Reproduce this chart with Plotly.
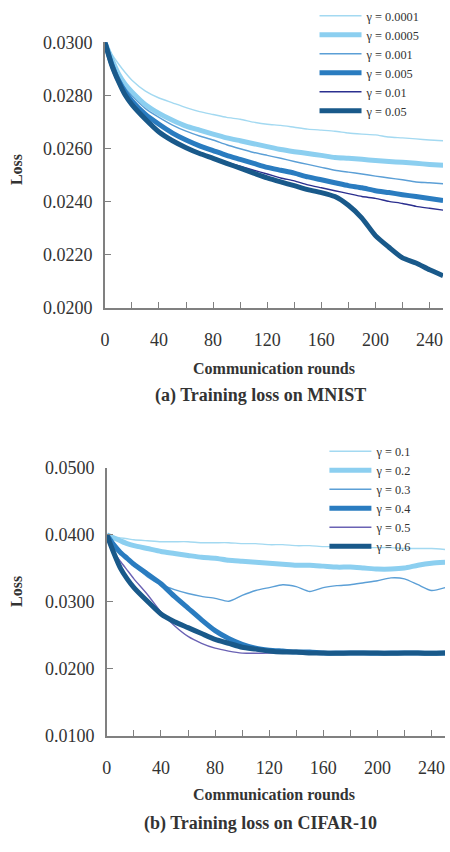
import plotly.graph_objects as go

# ---------------- data ----------------
rounds = [0, 5, 10, 15, 20, 30, 40, 50, 60, 70, 80, 90, 100, 110, 120, 130,
          140, 150, 160, 170, 180, 190, 200, 210, 220, 230, 240, 250]

top_names = ["γ = 0.0001", "γ = 0.0005", "γ = 0.001", "γ = 0.005", "γ = 0.01", "γ = 0.05"]
top_s1 = [0.03000, 0.02956, 0.02919, 0.02886, 0.02857, 0.02816, 0.02790, 0.02772, 0.02754, 0.02739,
          0.02728, 0.02717, 0.02710, 0.02699, 0.02691, 0.02687, 0.02680, 0.02673, 0.02669, 0.02665,
          0.02658, 0.02654, 0.02651, 0.02643, 0.02640, 0.02636, 0.02632, 0.02629]
top_s2 = [0.03000, 0.02938, 0.02882, 0.02842, 0.02813, 0.02765, 0.02732, 0.02706, 0.02684, 0.02669,
          0.02654, 0.02640, 0.02629, 0.02618, 0.02607, 0.02596, 0.02588, 0.02581, 0.02574, 0.02566,
          0.02563, 0.02559, 0.02555, 0.02551, 0.02548, 0.02544, 0.02540, 0.02537]
top_s3 = [0.03000, 0.02930, 0.02871, 0.02827, 0.02798, 0.02750, 0.02717, 0.02688, 0.02665, 0.02647,
          0.02632, 0.02614, 0.02599, 0.02585, 0.02574, 0.02563, 0.02551, 0.02540, 0.02529, 0.02518,
          0.02511, 0.02504, 0.02496, 0.02489, 0.02482, 0.02474, 0.02471, 0.02467]
top_s4 = [0.03000, 0.02919, 0.02857, 0.02813, 0.02779, 0.02728, 0.02691, 0.02658, 0.02632, 0.02610,
          0.02592, 0.02574, 0.02559, 0.02544, 0.02529, 0.02518, 0.02507, 0.02493, 0.02482, 0.02471,
          0.02460, 0.02452, 0.02441, 0.02434, 0.02426, 0.02419, 0.02412, 0.02404]
top_s5 = [0.03000, 0.02912, 0.02846, 0.02798, 0.02761, 0.02706, 0.02665, 0.02632, 0.02607, 0.02585,
          0.02566, 0.02548, 0.02533, 0.02518, 0.02504, 0.02489, 0.02478, 0.02463, 0.02452, 0.02441,
          0.02430, 0.02419, 0.02412, 0.02401, 0.02393, 0.02382, 0.02375, 0.02368]
top_s6 = [0.03000, 0.02915, 0.02853, 0.02801, 0.02765, 0.02710, 0.02662, 0.02629, 0.02603, 0.02581,
          0.02563, 0.02544, 0.02526, 0.02507, 0.02489, 0.02474, 0.02460, 0.02445, 0.02434, 0.02419,
          0.02386, 0.02338, 0.02272, 0.02228, 0.02188, 0.02169, 0.02143, 0.02121]

bot_names = ["γ = 0.1", "γ = 0.2", "γ = 0.3", "γ = 0.4", "γ = 0.5", "γ = 0.6"]
bot_s1 = [0.04000, 0.03971, 0.03956, 0.03942, 0.03927, 0.03912, 0.03898, 0.03898, 0.03898, 0.03883,
          0.03883, 0.03883, 0.03869, 0.03869, 0.03854, 0.03854, 0.03839, 0.03839, 0.03825, 0.03825,
          0.03825, 0.03810, 0.03810, 0.03810, 0.03796, 0.03796, 0.03796, 0.03781]
bot_s2 = [0.04000, 0.03956, 0.03912, 0.03869, 0.03839, 0.03796, 0.03752, 0.03723, 0.03693, 0.03664,
          0.03650, 0.03620, 0.03606, 0.03591, 0.03577, 0.03562, 0.03547, 0.03547, 0.03533, 0.03518,
          0.03518, 0.03504, 0.03489, 0.03489, 0.03504, 0.03547, 0.03577, 0.03591]
bot_s3 = [0.04000, 0.03854, 0.03737, 0.03635, 0.03547, 0.03372, 0.03255, 0.03182, 0.03124, 0.03080,
          0.03051, 0.03007, 0.03095, 0.03168, 0.03212, 0.03255, 0.03226, 0.03153, 0.03212, 0.03241,
          0.03255, 0.03285, 0.03314, 0.03358, 0.03343, 0.03255, 0.03168, 0.03212]
bot_s4 = [0.04000, 0.03854, 0.03737, 0.03650, 0.03562, 0.03416, 0.03270, 0.03080, 0.02905, 0.02730,
          0.02569, 0.02452, 0.02365, 0.02306, 0.02277, 0.02263, 0.02248, 0.02248, 0.02233, 0.02233,
          0.02236, 0.02233, 0.02230, 0.02233, 0.02236, 0.02233, 0.02230, 0.02233]
bot_s5 = [0.04000, 0.03752, 0.03606, 0.03474, 0.03343, 0.03109, 0.02847, 0.02642, 0.02482, 0.02379,
          0.02306, 0.02263, 0.02233, 0.02230, 0.02233, 0.02236, 0.02233, 0.02230, 0.02233, 0.02233,
          0.02230, 0.02233, 0.02236, 0.02233, 0.02230, 0.02233, 0.02233, 0.02230]
bot_s6 = [0.04000, 0.03737, 0.03504, 0.03343, 0.03212, 0.03007, 0.02817, 0.02701, 0.02613, 0.02525,
          0.02438, 0.02379, 0.02321, 0.02292, 0.02263, 0.02248, 0.02248, 0.02233, 0.02233, 0.02230,
          0.02233, 0.02236, 0.02233, 0.02230, 0.02233, 0.02233, 0.02230, 0.02233]

x_tickvals = [0, 20, 40, 60, 80, 100, 120, 140, 160, 180, 200, 220, 240]
x_ticktext = ["0", "", "40", "", "80", "", "120", "", "160", "", "200", "", "240"]
top_yticks = [0.020, 0.022, 0.024, 0.026, 0.028, 0.030]
bot_yticks = [0.010, 0.020, 0.030, 0.040, 0.050]

x_title = "Communication rounds"
y_title = "Loss"
cap_a = "(a) Training loss on MNIST"
cap_b = "(b) Training loss on CIFAR-10"

# ---------------- styles ----------------
top_colors = ["#a3d9f1", "#8ccff0", "#5b9fd6", "#2a7cc0", "#2b2f8f", "#19598a"]
bot_colors = ["#a3d9f1", "#8ccff0", "#5b9fd6", "#2a7cc0", "#6a62b4", "#19598a"]
widths = [1.4, 5, 1.4, 5, 1.4, 5]
FONT = "Liberation Serif"
AX = "#808080"

fig = go.Figure()
top_series = [top_s1, top_s2, top_s3, top_s4, top_s5, top_s6]
bot_series = [bot_s1, bot_s2, bot_s3, bot_s4, bot_s5, bot_s6]
for i, ys in enumerate(top_series):
    fig.add_trace(go.Scatter(x=rounds, y=ys, mode="lines", name=top_names[i],
                             line=dict(color=top_colors[i], width=widths[i], shape="spline", smoothing=0.6),
                             xaxis="x", yaxis="y", legend="legend"))
for i, ys in enumerate(bot_series):
    fig.add_trace(go.Scatter(x=rounds, y=ys, mode="lines", name=bot_names[i],
                             line=dict(color=bot_colors[i], width=widths[i], shape="spline", smoothing=0.6),
                             xaxis="x2", yaxis="y2", legend="legend2"))

W, H = 450, 852


def px_x(p):
    return p / W


def px_y(p):
    return (H - p) / H


def xaxis_cfg(d0, d1, anchor):
    return dict(domain=[px_x(d0), px_x(d1)], range=[0, 250], anchor=anchor,
                tickvals=x_tickvals, ticktext=x_ticktext, ticks="inside", ticklen=6,
                tickcolor=AX, tickwidth=1.2,
                showline=True, linecolor=AX, linewidth=1.5, showgrid=False, zeroline=False,
                ticklabelstandoff=15, tickfont=dict(family=FONT, size=18, color="#333333"))


def yaxis_cfg(top, bot, rng, tv, anchor):
    return dict(domain=[px_y(bot), px_y(top)], range=rng, anchor=anchor,
                tickvals=tv, tickformat=".4f", ticks="inside", ticklen=6, tickcolor=AX, tickwidth=1.2,
                showline=True, linecolor=AX, linewidth=1.5, showgrid=False, zeroline=False,
                ticklabelstandoff=7, tickfont=dict(family=FONT, size=18, color="#333333"))


fig.update_layout(
    width=W, height=H, margin=dict(l=0, r=0, t=0, b=0),
    paper_bgcolor="white", plot_bgcolor="white",
    font=dict(family=FONT, color="#333333"),
    xaxis=xaxis_cfg(101, 443, "y"),
    yaxis=yaxis_cfg(33, 305, [0.020, 0.030], top_yticks, "x"),
    xaxis2=xaxis_cfg(103, 445, "y2"),
    yaxis2=yaxis_cfg(469, 743, [0.010, 0.050], bot_yticks, "x2"),
    legend=dict(x=px_x(313), y=px_y(-9), xanchor="left", yanchor="top", bgcolor="rgba(0,0,0,0)",
                font=dict(family=FONT, size=12.3, color="#333333"), tracegroupgap=0, itemwidth=42),
    legend2=dict(x=px_x(323), y=px_y(437), xanchor="left", yanchor="top", bgcolor="rgba(0,0,0,0)",
                 font=dict(family=FONT, size=12.3, color="#333333"), tracegroupgap=0, itemwidth=42),
    showlegend=True,
)

annos = [
    dict(text=f"<b>{x_title}</b>", x=px_x(272), y=px_y(367), size=16),
    dict(text=f"<b>{cap_a}</b>", x=px_x(258), y=px_y(395), size=18),
    dict(text=f"<b>{x_title}</b>", x=px_x(272), y=px_y(803), size=16),
    dict(text=f"<b>{cap_b}</b>", x=px_x(258), y=px_y(833), size=18),
]
for a in annos:
    sz = a.pop("size")
    fig.add_annotation(xref="paper", yref="paper", showarrow=False, xanchor="center", yanchor="middle",
                       font=dict(family=FONT, size=sz, color="#333333"), **a)
for yc in (163, 595):
    fig.add_annotation(text=f"<b>{y_title}</b>", xref="paper", yref="paper", x=px_x(11), y=px_y(yc),
                       showarrow=False, textangle=-90, xanchor="center", yanchor="middle",
                       font=dict(family=FONT, size=16, color="#333333"))

fig.write_html("out.html")
